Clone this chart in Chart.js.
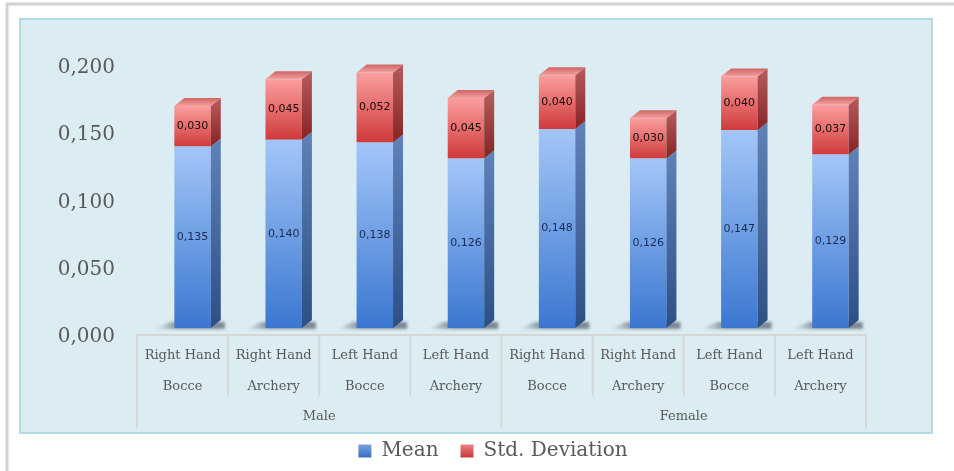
<!DOCTYPE html>
<html><head><meta charset="utf-8">
<script src="https://cdn.jsdelivr.net/npm/chart.js@4.4.1/dist/chart.umd.min.js"></script>
<style>html,body{margin:0;padding:0;background:#fff;}canvas{display:block;}</style>
</head><body>
<canvas id="c" width="954" height="471"></canvas>
<script>
const categories = [
  ['Right Hand','Bocce'], ['Right Hand','Archery'], ['Left Hand','Bocce'], ['Left Hand','Archery'],
  ['Right Hand','Bocce'], ['Right Hand','Archery'], ['Left Hand','Bocce'], ['Left Hand','Archery']
];
const groups = ['Male', 'Female'];
const groupSize = 4;
const meanValues = [0.135, 0.140, 0.138, 0.126, 0.148, 0.126, 0.147, 0.129];
const stdValues  = [0.030, 0.045, 0.052, 0.045, 0.040, 0.030, 0.040, 0.037];
const yTicks = [0, 0.05, 0.10, 0.15, 0.20];
const seriesNames = ['Mean', 'Std. Deviation'];

const fmt = v => v.toFixed(3).replace('.', ',');
const SERIF = '"DejaVu Serif", serif';
const SANS = '"DejaVu Sans", sans-serif';
const OFFX = 10, OFFY = -7;   // 3D projection offset of bar fronts
const DX = 10, DY = 8;        // depth of bar boxes

const palette = {
  mean: {front: ['#a3c6f8', '#3b77d0'], side: ['#5f82b8', '#2c4f86'], label: '#1c2c50', legend: ['#7fa9e6', '#3a6fc0']},
  std:  {front: ['#fb9e9e', '#cf3a3a'], side: ['#b65c5c', '#872424'], top: ['#cf6464', '#f2a0a0'], label: '#1a0808', legend: ['#f08c8c', '#c83a3a']}
};

function segRange(dsIndex, i) {
  return dsIndex === 0 ? [0, meanValues[i]] : [meanValues[i], meanValues[i] + stdValues[i]];
}
function frontFill(context) {
  const chart = context.chart, y = chart.scales.y;
  const p = context.datasetIndex === 0 ? palette.mean : palette.std;
  if (!y || !chart.chartArea || context.dataIndex === undefined) return p.front[1];
  const [a, b] = segRange(context.datasetIndex, context.dataIndex);
  const g = chart.ctx.createLinearGradient(0, y.getPixelForValue(b), 0, y.getPixelForValue(a));
  g.addColorStop(0, p.front[0]); g.addColorStop(1, p.front[1]);
  return g;
}

const panelPlugin = {
  id: 'panel',
  beforeDraw(chart) {
    const c = chart.ctx;
    c.save();
    c.fillStyle = '#ffffff'; c.fillRect(0, 0, chart.width, chart.height);
    c.strokeStyle = '#d2d2d2'; c.lineWidth = 3;
    c.beginPath(); c.moveTo(7, 471); c.lineTo(7, 4); c.lineTo(954, 4); c.stroke();
    c.fillStyle = '#dbedf3'; c.fillRect(20, 19, 912, 414);
    c.strokeStyle = '#b3dbe6'; c.lineWidth = 2; c.strokeRect(20, 19, 912, 414);
    c.restore();
  }
};

const bars3d = {
  id: 'bars3d',
  beforeDatasetsDraw(chart) {
    const c = chart.ctx;
    c.save();
    c.translate(OFFX, OFFY);
    const meta = chart.getDatasetMeta(0);
    c.save();
    c.filter = 'blur(1.5px)';
    meta.data.forEach(el => {
      const l = el.x - el.width / 2, r = el.x + el.width / 2, b = el.base;
      const g = c.createLinearGradient(l - 20, 0, l + 4, 0);
      g.addColorStop(0, 'rgba(90,100,110,0)');
      g.addColorStop(1, 'rgba(60,70,85,0.6)');
      c.fillStyle = g;
      c.beginPath();
      c.moveTo(l - 20, b + 1); c.lineTo(r + DX + 4, b + 1);
      c.lineTo(r + DX + 4, b - DY + 2); c.lineTo(l - 4, b - DY + 2);
      c.closePath(); c.fill();
    });
    c.restore();
  },
  afterDatasetsDraw(chart) {
    const c = chart.ctx;
    chart.data.datasets.forEach((ds, di) => {
      const p = di === 0 ? palette.mean : palette.std;
      chart.getDatasetMeta(di).data.forEach((el, i) => {
        const l = el.x - el.width / 2, r = el.x + el.width / 2;
        const t = el.y, b = el.base;
        const g = c.createLinearGradient(0, t - DY, 0, b);
        g.addColorStop(0, p.side[0]); g.addColorStop(1, p.side[1]);
        c.fillStyle = g;
        c.beginPath();
        c.moveTo(r, t); c.lineTo(r + DX, t - DY); c.lineTo(r + DX, b - DY); c.lineTo(r, b);
        c.closePath(); c.fill();
        if (di === chart.data.datasets.length - 1) {
          const gt = c.createLinearGradient(0, t - DY, 0, t);
          gt.addColorStop(0, p.top[0]); gt.addColorStop(1, p.top[1]);
          c.fillStyle = gt;
          c.beginPath();
          c.moveTo(l, t); c.lineTo(l + DX, t - DY); c.lineTo(r + DX, t - DY); c.lineTo(r, t);
          c.closePath(); c.fill();
        }
        c.fillStyle = p.label;
        c.font = '11px ' + SANS;
        c.textAlign = 'center'; c.textBaseline = 'middle';
        c.fillText(fmt(ds.data[i]), el.x, (t + b) / 2);
      });
    });
    c.restore();
  }
};

const axisGroups = {
  id: 'axisGroups',
  afterDraw(chart) {
    const c = chart.ctx, xs = chart.scales.x;
    const n = categories.length;
    const half = (xs.getPixelForValue(1) - xs.getPixelForValue(0)) / 2;
    const top = xs.top;
    c.save();
    c.strokeStyle = '#d6d6d6'; c.lineWidth = 2;
    for (let i = 0; i <= n; i++) {
      const x = i < n ? xs.getPixelForValue(i) - half : xs.getPixelForValue(n - 1) + half;
      const isGroup = i % groupSize === 0;
      c.beginPath();
      c.moveTo(x, top); c.lineTo(x, isGroup ? 428 : 396);
      c.stroke();
    }
    c.fillStyle = '#595959';
    c.font = '13px ' + SERIF;
    c.textAlign = 'center'; c.textBaseline = 'middle';
    groups.forEach((gname, gi) => {
      const x0 = xs.getPixelForValue(gi * groupSize) - half;
      const x1 = xs.getPixelForValue(gi * groupSize + groupSize - 1) + half;
      c.fillText(gname, (x0 + x1) / 2, 417);
    });
    c.restore();
  }
};

function legendFill(chart, cols) {
  const g = chart.ctx.createLinearGradient(0, 443, 0, 457);
  g.addColorStop(0, cols[0]); g.addColorStop(1, cols[1]);
  return g;
}

new Chart(document.getElementById('c'), {
  type: 'bar',
  data: {
    labels: categories,
    datasets: [
      {label: seriesNames[0], data: meanValues, backgroundColor: frontFill, borderWidth: 0, clip: false},
      {label: seriesNames[1], data: stdValues, backgroundColor: frontFill, borderWidth: 0, clip: false}
    ]
  },
  options: {
    responsive: false,
    animation: false,
    devicePixelRatio: 1,
    layout: {padding: {left: 40, right: 8, top: 66, bottom: 0}},
    datasets: {bar: {categoryPercentage: 1, barPercentage: 0.4}},
    scales: {
      x: {
        stacked: true,
        grid: {display: false, drawTicks: false},
        border: {display: true, color: '#d6d6d6', width: 2},
        ticks: {color: '#595959', font: {family: SERIF, size: 13, lineHeight: '31px'}, padding: 5, maxRotation: 0, autoSkip: false},
        afterFit(s) { s.height = 471 - 335 - (s.chart.legend ? s.chart.legend.height : 0); }
      },
      y: {
        stacked: true,
        min: 0, max: 0.2,
        grid: {display: false, drawTicks: false},
        border: {display: false},
        afterBuildTicks(s) { s.ticks = yTicks.map(v => ({value: v})); },
        ticks: {color: '#595959', font: {family: SERIF, size: 20}, padding: 22, labelOffset: 2, callback: v => fmt(v)},
        afterFit(s) { s.width = 97; }
      },
      yRight: {
        position: 'right',
        display: true,
        grid: {display: false, drawTicks: false},
        border: {display: false},
        ticks: {display: false},
        afterFit(s) { s.width = 80; }
      }
    },
    plugins: {
      tooltip: {enabled: false},
      legend: {
        position: 'bottom',
        labels: {
          color: '#595959', font: {family: SERIF, size: 20}, boxWidth: 13, boxHeight: 13, padding: 22,
          generateLabels: chart => chart.data.datasets.map((ds, i) => ({
            text: ds.label,
            fillStyle: legendFill(chart, i === 0 ? palette.mean.legend : palette.std.legend),
            strokeStyle: 'rgba(0,0,0,0)', lineWidth: 0, hidden: false, datasetIndex: i, fontColor: '#595959'
          }))
        }
      }
    }
  },
  plugins: [panelPlugin, bars3d, axisGroups]
});
</script>
</body></html>
